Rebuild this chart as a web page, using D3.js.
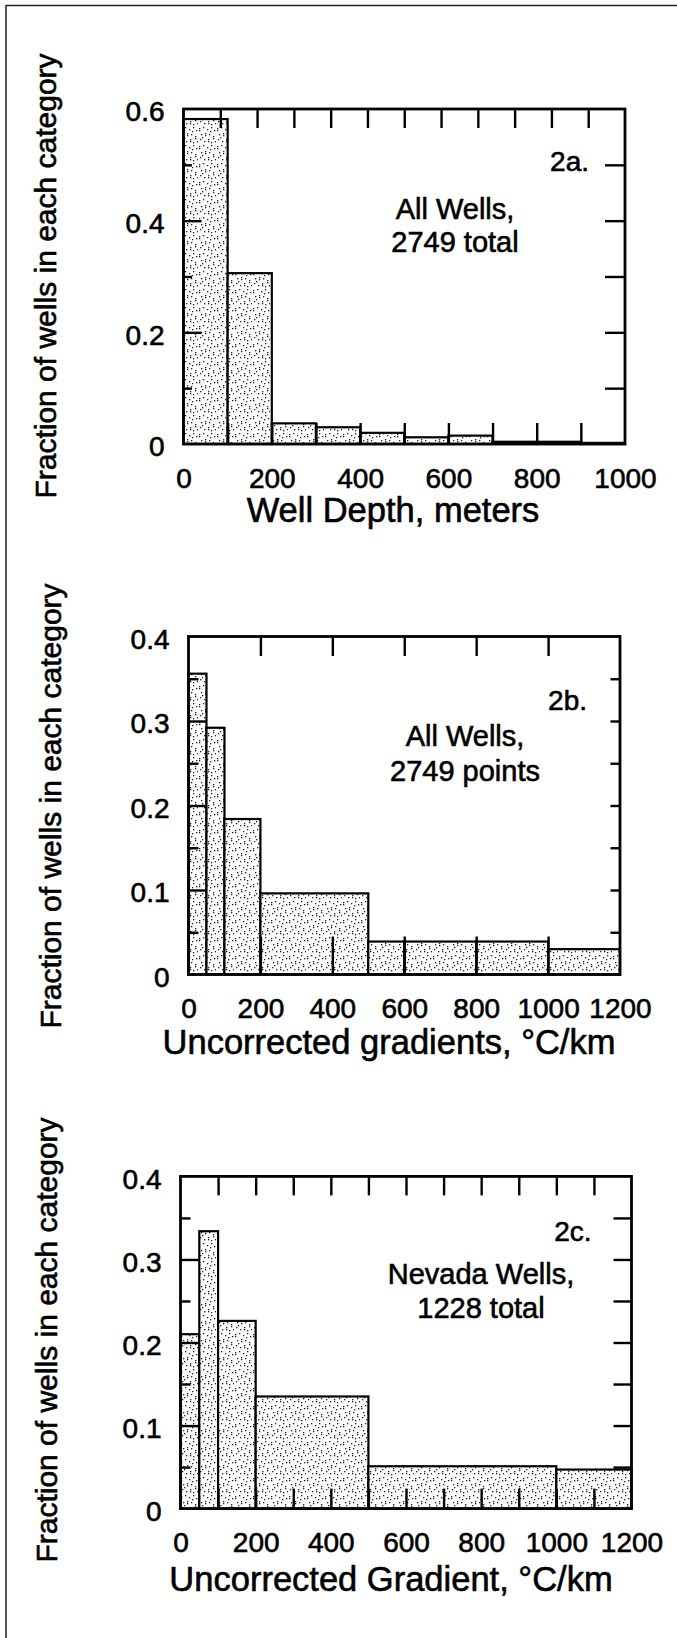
<!DOCTYPE html>
<html>
<head>
<meta charset="utf-8">
<script src="https://cdn.jsdelivr.net/npm/d3@7"></script>
<style>
  body { margin: 0; background: #fff; }
  svg { display: block; }
  text { stroke: #000; stroke-width: 0.6px; }
</style>
</head>
<body>
<script>
// figure 2a: well depth histogram
const depthBins = [0, 100, 200, 300, 400, 500, 600, 700, 800, 900, 1000];
const depthFrac = [0.582, 0.306, 0.037, 0.030, 0.020, 0.012, 0.015, 0.004, 0.004, 0.002];

// figure 2b: uncorrected gradients, all wells
const gradBinsAll = [0, 50, 100, 200, 500, 600, 800, 1000, 1200];
const gradFracAll = [0.356, 0.292, 0.184, 0.096, 0.039, 0.039, 0.039, 0.030];

// figure 2c: uncorrected gradients, Nevada wells
const gradBinsNv = [0, 50, 100, 200, 500, 1000, 1200];
const gradFracNv = [0.210, 0.334, 0.226, 0.135, 0.051, 0.047];

// tick labels
const xLabelsDepth = [0, 200, 400, 600, 800, 1000];
const xLabelsGrad = [0, 200, 400, 600, 800, 1000, 1200];
const yLabelsDepth = [0, 0.2, 0.4, 0.6];
const yLabelsGrad = [0, 0.1, 0.2, 0.3, 0.4];

const yTitle = "Fraction of wells in each category";

const W = 677, H = 1638;
const font = "'Liberation Sans', Arial, Helvetica, sans-serif";

const svg = d3.select('body').append('svg')
  .attr('width', W)
  .attr('height', H);

// stipple fill, a fixed set of dots repeated
const stippleDots = [[1,2],[1,4],[5,1],[9,3],[13,1],[16,4],[3,8],[7,7],[7,9],[11,8],
  [15,10],[15,12],[2,13],[6,15],[10,13],[10,15],[13,16],[17,15],[4,11],[12,5]];
const pat = svg.append('defs').append('pattern')
  .attr('id', 'stipple')
  .attr('patternUnits', 'userSpaceOnUse')
  .attr('width', 18).attr('height', 18);
pat.append('rect').attr('width', 18).attr('height', 18).attr('fill', '#fff');
pat.selectAll('rect.dot').data(stippleDots).join('rect')
  .attr('class', 'dot')
  .attr('x', d => d[0]).attr('y', d => d[1])
  .attr('width', 1.3).attr('height', 1.3)
  .attr('fill', '#222');

// page border (left and top only)
svg.append('line').attr('x1', 6).attr('y1', 5).attr('x2', 6).attr('y2', H)
  .attr('stroke', '#222').attr('stroke-width', 1.5);
svg.append('line').attr('x1', 6).attr('y1', 5.5).attr('x2', W).attr('y2', 5.5)
  .attr('stroke', '#222').attr('stroke-width', 1.5);

const panels = [
  {
    bins: depthBins, values: depthFrac, xMax: 1000, yMax: 0.6,
    left: 183.5, right: 625, top: 109, bottom: 444,
    xLabels: xLabelsDepth, yLabels: yLabelsDepth,
    topScaleMax: 1200, topTicks: d3.range(100, 1200, 100), topLen: 19,
    bottomTicks: d3.range(100, 1000, 100), bottomLen: 21,
    leftMajor: [0.2, 0.4], leftMinor: [0.1, 0.3, 0.5], minorLen: 8.5,
    rightTicks: [0.1, 0.2, 0.3, 0.4, 0.5], rightLen: 20,
    tag: '2a.', tagX: 589, tagY: 171,
    note: ['All Wells,', '2749 total'], noteX: 455, noteY: [218.6, 251.8],
    xTitle: 'Well Depth, meters', xTitleX: 393, xTitleY: 522,
    yTitleX: 56, yTitleY: 276
  },
  {
    bins: gradBinsAll, values: gradFracAll, xMax: 1200, yMax: 0.4,
    left: 188.5, right: 620, top: 636.5, bottom: 974.5,
    xLabels: xLabelsGrad, yLabels: yLabelsGrad,
    topScaleMax: 1200, topTicks: [200, 400, 600, 800, 1000], topLen: 19.5,
    bottomTicks: [200, 400, 600, 800, 1000], bottomLen: 38,
    leftMajor: [0.1, 0.2, 0.3], leftMinor: [0.05, 0.15, 0.25, 0.35], minorLen: 10,
    rightTicks: [0.05, 0.1, 0.15, 0.2, 0.25, 0.3, 0.35], rightLen: 9.5,
    tag: '2b.', tagX: 587, tagY: 709.6,
    note: ['All Wells,', '2749 points'], noteX: 465, noteY: [746.4, 781],
    xTitle: 'Uncorrected gradients, °C/km', xTitleX: 389, xTitleY: 1054,
    yTitleX: 61, yTitleY: 806
  },
  {
    bins: gradBinsNv, values: gradFracNv, xMax: 1200, yMax: 0.4,
    left: 180.5, right: 631.5, top: 1176.4, bottom: 1508.6,
    xLabels: xLabelsGrad, yLabels: yLabelsGrad,
    topScaleMax: 1200, topTicks: d3.range(100, 1200, 100), topLen: 19,
    bottomTicks: d3.range(100, 1200, 100), bottomLen: 20,
    leftMajor: [0.1, 0.2, 0.3], leftMinor: [0.05, 0.15, 0.25, 0.35], minorLen: 10,
    rightTicks: [0.05, 0.1, 0.15, 0.2, 0.25, 0.3, 0.35], rightLen: 18,
    tag: '2c.', tagX: 591.5, tagY: 1241.4,
    note: ['Nevada Wells,', '1228 total'], noteX: 481, noteY: [1284.3, 1317.5],
    xTitle: 'Uncorrected Gradient, °C/km', xTitleX: 391, xTitleY: 1590.5,
    yTitleX: 57, yTitleY: 1340
  }
];

function tickGroup(g, axis, transform) {
  g.append('g')
    .attr('transform', transform)
    .call(axis)
    .call(s => s.select('.domain').remove())
    .call(s => s.selectAll('line').attr('stroke', '#000').attr('stroke-width', 2.4));
}

function drawPanel(p) {
  const x = d3.scaleLinear().domain([0, p.xMax]).range([p.left, p.right]);
  const xTop = d3.scaleLinear().domain([0, p.topScaleMax]).range([p.left, p.right]);
  const y = d3.scaleLinear().domain([0, p.yMax]).range([p.bottom, p.top]);
  const g = svg.append('g');

  const bars = p.values.map((v, i) => ({ x0: p.bins[i], x1: p.bins[i + 1], v }));

  // histogram bars
  g.selectAll('rect.bar')
    .data(bars)
    .join('rect')
    .attr('class', 'bar')
    .attr('x', d => x(d.x0))
    .attr('y', d => y(d.v))
    .attr('width', d => x(d.x1) - x(d.x0))
    .attr('height', d => y(0) - y(d.v))
    .attr('fill', 'url(#stipple)')
    .attr('stroke', '#000')
    .attr('stroke-width', 2.2);

  // inward ticks on all four sides
  tickGroup(g, d3.axisBottom(x).tickValues(p.bottomTicks).tickSize(-p.bottomLen).tickFormat(''),
    `translate(0,${p.bottom})`);
  tickGroup(g, d3.axisTop(xTop).tickValues(p.topTicks).tickSize(-p.topLen).tickFormat(''),
    `translate(0,${p.top})`);
  tickGroup(g, d3.axisLeft(y).tickValues(p.leftMajor).tickSize(-18).tickFormat(''),
    `translate(${p.left},0)`);
  tickGroup(g, d3.axisLeft(y).tickValues(p.leftMinor).tickSize(-p.minorLen).tickFormat(''),
    `translate(${p.left},0)`);
  tickGroup(g, d3.axisRight(y).tickValues(p.rightTicks).tickSize(-p.rightLen).tickFormat(''),
    `translate(${p.right},0)`);

  // frame
  g.append('rect')
    .attr('x', p.left).attr('y', p.top)
    .attr('width', p.right - p.left).attr('height', p.bottom - p.top)
    .attr('fill', 'none').attr('stroke', '#000').attr('stroke-width', 2.8);

  // tick labels
  g.append('g')
    .attr('transform', `translate(0,${p.bottom})`)
    .call(d3.axisBottom(x).tickValues(p.xLabels).tickSize(0).tickPadding(24).tickFormat(d3.format('d')))
    .call(s => s.select('.domain').remove())
    .attr('font-family', font).attr('font-size', 28);

  g.append('g')
    .attr('transform', `translate(${p.left},0)`)
    .call(d3.axisLeft(y).tickValues(p.yLabels).tickSize(0).tickPadding(19)
      .tickFormat(d => d === 0 ? '0' : d3.format('.1f')(d)))
    .call(s => s.select('.domain').remove())
    .call(s => s.selectAll('text').attr('dy', '0.42em'))
    .attr('font-family', font).attr('font-size', 28);

  // annotations
  g.append('text')
    .attr('x', p.tagX).attr('y', p.tagY)
    .attr('text-anchor', 'end')
    .attr('font-family', font).attr('font-size', 28)
    .text(p.tag);

  g.selectAll('text.note')
    .data(p.note)
    .join('text')
    .attr('class', 'note')
    .attr('x', p.noteX)
    .attr('y', (d, i) => p.noteY[i])
    .attr('text-anchor', 'middle')
    .attr('font-family', font).attr('font-size', 29)
    .text(d => d);

  // axis titles
  g.append('text')
    .attr('x', p.xTitleX).attr('y', p.xTitleY)
    .attr('text-anchor', 'middle')
    .attr('font-family', font).attr('font-size', 34.5)
    .text(p.xTitle);

  g.append('text')
    .attr('transform', `translate(${p.yTitleX},${p.yTitleY}) rotate(-90)`)
    .attr('text-anchor', 'middle')
    .attr('font-family', font).attr('font-size', 30)
    .text(yTitle);
}

panels.forEach(drawPanel);
</script>
</body>
</html>
